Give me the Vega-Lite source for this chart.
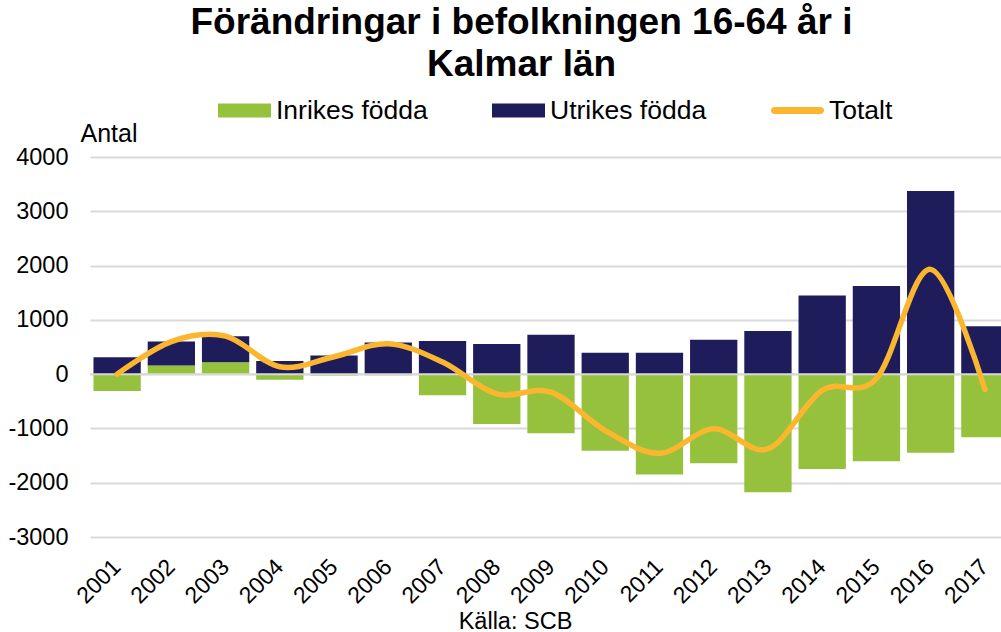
{
  "$schema": "https://vega.github.io/schema/vega-lite/v6.json",
  "width": 911,
  "height": 380,
  "autosize": {"type": "none"},
  "padding": {"left": 90, "top": 157, "right": 0, "bottom": 95},
  "background": "#ffffff",
  "config": {"font": "Liberation Sans", "view": {"stroke": null}},
  "title": {
    "text": ["Förändringar i befolkningen 16-64 år i", "Kalmar län"],
    "fontSize": 37,
    "fontWeight": "bold",
    "color": "#000000",
    "anchor": "middle",
    "frame": "group",
    "dx": -24,
    "dy": 29,
    "lineHeight": 41.7,
    "offset": 0,
    "baseline": "alphabetic"
  },
  "datasets": {
    "bars": [
      {"year": "2001", "series": "Inrikes födda", "value": -310},
      {"year": "2001", "series": "Utrikes födda", "value": 313},
      {"year": "2002", "series": "Inrikes födda", "value": 160},
      {"year": "2002", "series": "Utrikes födda", "value": 443},
      {"year": "2003", "series": "Inrikes födda", "value": 220},
      {"year": "2003", "series": "Utrikes födda", "value": 480},
      {"year": "2004", "series": "Inrikes födda", "value": -105},
      {"year": "2004", "series": "Utrikes födda", "value": 240},
      {"year": "2005", "series": "Inrikes födda", "value": -25},
      {"year": "2005", "series": "Utrikes födda", "value": 345},
      {"year": "2006", "series": "Inrikes födda", "value": -20},
      {"year": "2006", "series": "Utrikes födda", "value": 585},
      {"year": "2007", "series": "Inrikes födda", "value": -387},
      {"year": "2007", "series": "Utrikes födda", "value": 609},
      {"year": "2008", "series": "Inrikes födda", "value": -917},
      {"year": "2008", "series": "Utrikes födda", "value": 553},
      {"year": "2009", "series": "Inrikes födda", "value": -1089},
      {"year": "2009", "series": "Utrikes födda", "value": 725},
      {"year": "2010", "series": "Inrikes födda", "value": -1409},
      {"year": "2010", "series": "Utrikes födda", "value": 393},
      {"year": "2011", "series": "Inrikes födda", "value": -1850},
      {"year": "2011", "series": "Utrikes födda", "value": 393},
      {"year": "2012", "series": "Inrikes födda", "value": -1643},
      {"year": "2012", "series": "Utrikes födda", "value": 635},
      {"year": "2013", "series": "Inrikes födda", "value": -2174},
      {"year": "2013", "series": "Utrikes födda", "value": 796},
      {"year": "2014", "series": "Inrikes födda", "value": -1748},
      {"year": "2014", "series": "Utrikes födda", "value": 1450},
      {"year": "2015", "series": "Inrikes födda", "value": -1605},
      {"year": "2015", "series": "Utrikes födda", "value": 1622},
      {"year": "2016", "series": "Inrikes födda", "value": -1446},
      {"year": "2016", "series": "Utrikes födda", "value": 3374},
      {"year": "2017", "series": "Inrikes födda", "value": -1163},
      {"year": "2017", "series": "Utrikes födda", "value": 880}
    ],
    "total": [
      {"year": "2001", "value": 0},
      {"year": "2002", "value": 600},
      {"year": "2003", "value": 700},
      {"year": "2004", "value": 135},
      {"year": "2005", "value": 320},
      {"year": "2006", "value": 560},
      {"year": "2007", "value": 222},
      {"year": "2008", "value": -364},
      {"year": "2009", "value": -330},
      {"year": "2010", "value": -1040},
      {"year": "2011", "value": -1457},
      {"year": "2012", "value": -1008},
      {"year": "2013", "value": -1378},
      {"year": "2014", "value": -298},
      {"year": "2015", "value": -80},
      {"year": "2016", "value": 1930},
      {"year": "2017", "value": -283}
    ]
  },
  "layer": [
    {
      "data": {"name": "bars"},
      "mark": {"type": "bar"},
      "encoding": {
        "x": {
          "field": "year",
          "type": "ordinal",
          "scale": {"range": [0, 922], "paddingInner": 0.128, "paddingOuter": 0.064},
          "axis": {
            "labelAngle": -45,
            "labelAlign": "right",
            "labelBaseline": "middle",
            "labelFontSize": 23,
            "labelColor": "#000000",
            "labelPadding": 26,
            "ticks": false,
            "tickSize": 0,
            "domain": false,
            "title": "Källa: SCB",
            "titleFontSize": 23.5,
            "titleFontWeight": "normal",
            "titleColor": "#000000",
            "titleX": 425,
            "titleY": 91,
            "titleAlign": "center",
            "titleBaseline": "alphabetic"
          }
        },
        "y": {
          "field": "value",
          "type": "quantitative",
          "stack": "zero",
          "scale": {"domain": [-3000, 4000], "nice": false},
          "axis": {
            "values": [-3000, -2000, -1000, 0, 1000, 2000, 3000, 4000],
            "labelExpr": "datum.value + ''",
            "labelFontSize": 23.5,
            "labelColor": "#000000",
            "labelPadding": 22,
            "ticks": false,
            "tickSize": 0,
            "domain": false,
            "grid": true,
            "gridColor": "#d9d9d9",
            "gridWidth": 2,
            "title": "Antal",
            "titleAngle": 0,
            "titleFontSize": 25,
            "titleFontWeight": "normal",
            "titleColor": "#000000",
            "titleX": -10,
            "titleY": -16,
            "titleAlign": "left",
            "titleBaseline": "alphabetic"
          }
        },
        "color": {
          "field": "series",
          "type": "nominal",
          "scale": {
            "domain": ["Inrikes födda", "Utrikes födda", "Totalt"],
            "range": ["#95c13d", "#1f1c5c", "#fbb630"]
          },
          "legend": {
            "title": null,
            "orient": "none",
            "legendX": 128,
            "legendY": -73,
            "direction": "horizontal",
            "padding": 0,
            "labelFontSize": 26.5,
            "labelColor": "#000000",
            "labelOffset": 5,
            "columnPadding": 64,
            "symbolSize": 2809,
            "symbolStrokeWidth": 0,
            "encode": {
              "symbols": {
                "update": {
                  "shape": [
                    {"test": "datum.value === 'Totalt'", "value": "M-0.87,-0.13H0.87A0.13,0.13,0,0,1,0.87,0.13H-0.87A0.13,0.13,0,0,1,-0.87,-0.13Z"},
                    {"value": "M-1,-0.264H1V0.264H-1Z"}
                  ],
                  "fill": {"scale": "color", "field": "value"},
                  "stroke": {"value": "transparent"},
                  "opacity": {"value": 1},
                  "fillOpacity": {"value": 1}
                }
              }
            }
          }
        },
        "order": {"field": "series", "type": "nominal", "sort": "ascending"}
      }
    },
    {
      "data": {"values": [{}]},
      "mark": {"type": "rule", "color": "#d9d9d9", "strokeWidth": 2},
      "encoding": {"y": {"datum": 0}}
    },
    {
      "data": {"name": "total"},
      "mark": {"type": "line", "interpolate": "cardinal", "strokeWidth": 5.5, "strokeCap": "round", "strokeJoin": "round"},
      "encoding": {
        "x": {"field": "year", "type": "ordinal"},
        "y": {"field": "value", "type": "quantitative"},
        "color": {"datum": "Totalt"}
      }
    }
  ]
}
